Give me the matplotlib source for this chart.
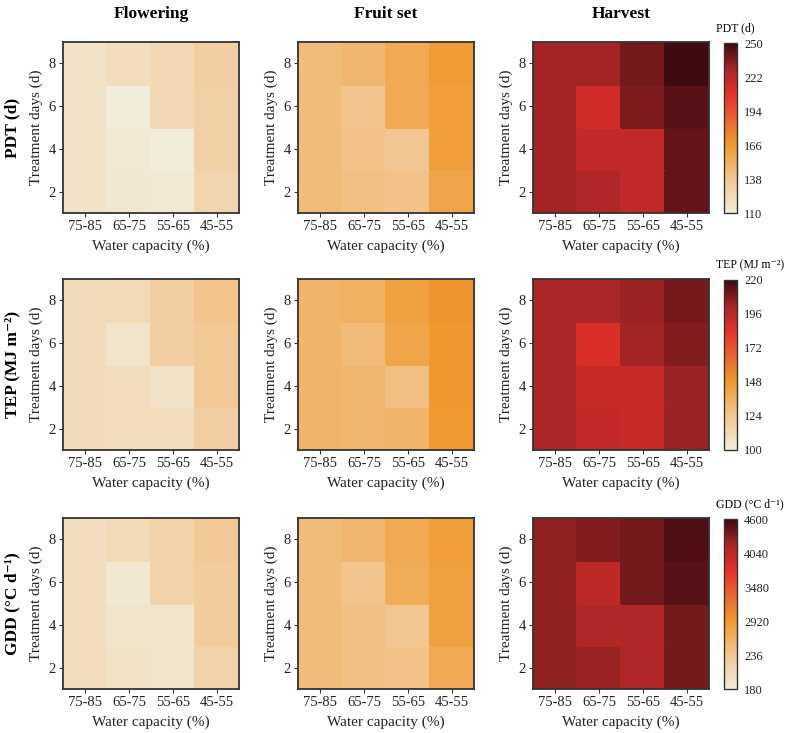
import matplotlib
matplotlib.use("Agg")
import matplotlib.pyplot as plt
import numpy as np
from matplotlib.colors import LinearSegmentedColormap

plt.rcParams['font.family'] = ['Liberation Serif', 'DejaVu Serif']

# eixos
capacidade = ["75-85", "65-75", "55-65", "45-55"]
dias = [2, 4, 6, 8]
estagios = ["Flowering", "Fruit set", "Harvest"]

# valores lidos de cima (8 d) para baixo (2 d)
flowering_pdt = [[118, 121, 125, 132], [118, 111, 125, 131], [118, 113, 111, 131], [118, 114, 113, 127]]
fruitset_pdt = [[145, 148, 156, 165], [145, 139, 156, 163], [145, 141, 138, 163], [145, 142, 141, 159]]
harvest_pdt = [[230, 230, 239, 249], [230, 215, 237, 244], [230, 221, 221, 242], [230, 226, 221, 242]]

flowering_tep = [[111, 112, 119, 126], [111, 106, 119, 123], [111, 110, 107, 123], [111, 110, 110, 119]]
fruitset_tep = [[134, 136, 144, 150], [134, 130, 142, 149], [134, 132, 128, 149], [134, 132, 134, 148]]
harvest_tep = [[201, 201, 204, 210], [201, 188, 203, 208], [201, 193, 193, 204], [201, 195, 193, 204]]

flowering_gdd = [[2024, 2080, 2192, 2332], [2024, 1884, 2192, 2276], [2024, 1940, 1912, 2276], [2024, 1968, 1940, 2192]]
fruitset_gdd = [[2500, 2556, 2724, 2864], [2500, 2388, 2696, 2836], [2500, 2444, 2360, 2836], [2500, 2444, 2416, 2724]]
harvest_gdd = [[4264, 4320, 4376, 4516], [4264, 4040, 4376, 4488], [4264, 4124, 4124, 4376], [4264, 4236, 4124, 4376]]

# escalas das barras de cor
pdt_ticks = [110, 138, 166, 194, 222, 250]
tep_ticks = [100, 124, 148, 172, 196, 220]
gdd_ticks = [1800, 2360, 2920, 3480, 4040, 4600]
gdd_labels = ["180", "236", "2920", "3480", "4040", "4600"]

linhas = [
    ("PDT (d)", [flowering_pdt, fruitset_pdt, harvest_pdt], pdt_ticks, [str(t) for t in pdt_ticks]),
    ("TEP (MJ m⁻²)", [flowering_tep, fruitset_tep, harvest_tep], tep_ticks, [str(t) for t in tep_ticks]),
    ("GDD (°C d⁻¹)", [flowering_gdd, fruitset_gdd, harvest_gdd], gdd_ticks, gdd_labels),
]

cmap = LinearSegmentedColormap.from_list("pdt", [
    (0.0, "#f2eddb"),
    (0.2, "#f2c692"),
    (0.4, "#f09a30"),
    (0.7, "#e8302a"),
    (0.85, "#a82626"),
    (1.0, "#3c0a10"),
])

W, H = 788, 733
fig = plt.figure(figsize=(W / 100, H / 100), dpi=100)


def caixa(x, topo, w, h):
    return [x / W, 1 - (topo + h) / H, w / W, h / H]


lefts = [63, 298, 533]
tops = [42, 279, 518]
pw, ph = 176, 171
cinza = "#333333"

x_edges = np.arange(5) - 0.5
y_edges = np.array([1, 3, 5, 7, 9])

for i, (nome, dados, ticks, rotulos) in enumerate(linhas):
    vmin, vmax = ticks[0], ticks[-1]
    mesh = None
    for j, valores in enumerate(dados):
        ax = fig.add_axes(caixa(lefts[j], tops[i], pw, ph))
        z = np.array(valores)[::-1]
        mesh = ax.pcolormesh(x_edges, y_edges, z, cmap=cmap, vmin=vmin, vmax=vmax,
                             edgecolors='face', linewidth=0.3)
        ax.set_xlim(-0.5, 3.5)
        ax.set_ylim(1, 9)
        ax.set_xticks(range(4))
        ax.set_xticklabels(capacidade)
        ax.set_yticks(dias)
        ax.tick_params(colors=cinza, labelcolor="#222222", labelsize=10.5, length=3, width=0.8, pad=2)
        for s in ax.spines.values():
            s.set_color(cinza)
            s.set_linewidth(1.3)
        ax.set_xlabel("Water capacity (%)", fontsize=11, labelpad=5, color="#222222")
        ax.set_ylabel("Treatment days (d)", fontsize=11, labelpad=4, color="#222222")
        if i == 0:
            ax.set_title(estagios[j], fontsize=12.5, fontweight='bold', pad=17)
    # rótulo da linha
    fig.text(12 / W, 1 - (tops[i] + ph / 2) / H, nome, rotation=90, ha='center', va='center',
             fontsize=12.5, fontweight='bold')
    # barra de cor
    cax = fig.add_axes(caixa(724, tops[i] + 1, 13, 170))
    cb = fig.colorbar(mesh, cax=cax, ticks=ticks)
    cb.ax.set_yticklabels(rotulos)
    cb.ax.tick_params(length=0, labelsize=9, pad=5, colors="#222222")
    cb.outline.set_edgecolor(cinza)
    cb.outline.set_linewidth(1.0)
    fig.text(716 / W, 1 - (tops[i] - 14) / H, nome, ha='left', va='center', fontsize=8.5)

fig.savefig("out.png", dpi=100)
